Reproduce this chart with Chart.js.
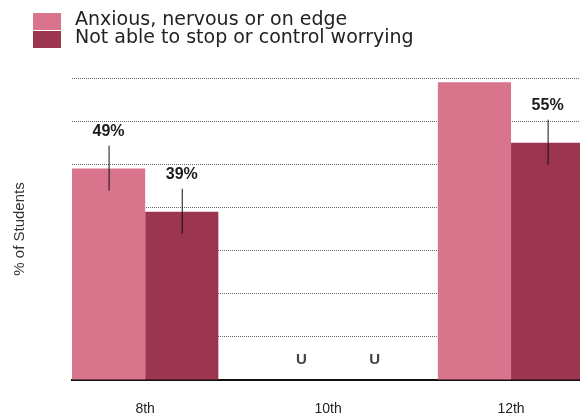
<!DOCTYPE html>
<html>
<head>
<meta charset="utf-8">
<script src="https://cdn.jsdelivr.net/npm/chart.js@4.4.1/dist/chart.umd.min.js"></script>
<style>
  html, body { margin: 0; padding: 0; background: #fff; overflow: hidden; }
  #wrap { width: 580px; height: 420px; }
</style>
</head>
<body>
<div id="wrap"><canvas id="myChart"></canvas></div>
<script>
// grades and survey results (percent of students)
const grades = ['8th', '10th', '12th'];
const anxious = [49, null, 69];
const worrying = [39, null, 55];
// printed labels above the bars, 'U' where no data was reported
const anxiousLabels = ['49%', 'U', ''];
const worryingLabels = ['39%', 'U', '55%'];
const seriesNames = ['Anxious, nervous or on edge', 'Not able to stop or control worrying'];
const yTicks = [0, 10, 20, 30, 40, 50, 60, 70];

const colors = ['#d9748d', '#9c3550'];

// linear x axis so the bars can sit where the grade positions fall
const toPoints = (vals) => vals.map((v, i) => ({ x: i, y: v }));

// draws the value labels with their short leader lines, and the 'U' marks
const barLabels = {
  id: 'barLabels',
  afterDatasetsDraw(chart) {
    const ctx = chart.ctx;
    const yScale = chart.scales.y;
    const allLabels = [anxiousLabels, worryingLabels];
    ctx.save();
    chart.data.datasets.forEach((ds, di) => {
      const meta = chart.getDatasetMeta(di);
      meta.data.forEach((bar, i) => {
        const text = allLabels[di][i];
        if (!text) return;
        const x = bar.x;
        if (text === 'U') {
          ctx.fillStyle = '#444';
          ctx.font = 'bold 15px "Liberation Sans", Arial, sans-serif';
          ctx.textAlign = 'center';
          ctx.textBaseline = 'middle';
          ctx.fillText(text, x + 10, yScale.getPixelForValue(0) - 20);
          return;
        }
        const top = yScale.getPixelForValue(ds.data[i].y);
        ctx.strokeStyle = '#111';
        ctx.lineWidth = 1;
        ctx.beginPath();
        ctx.moveTo(x + 0.5, top - 23);
        ctx.lineTo(x + 0.5, top + 22);
        ctx.stroke();
        ctx.fillStyle = '#1a1a1a';
        ctx.font = 'bold 16px "Liberation Sans", Arial, sans-serif';
        ctx.textAlign = 'center';
        ctx.textBaseline = 'middle';
        ctx.fillText(text, x, top - 37);
      });
    });
    ctx.restore();
  }
};

// stacked legend in the top-left corner
const topLegend = {
  id: 'topLegend',
  afterDraw(chart) {
    const ctx = chart.ctx;
    ctx.save();
    chart.data.datasets.forEach((ds, i) => {
      const y = 13 + i * 18;
      ctx.fillStyle = ds.backgroundColor;
      ctx.fillRect(33, y, 28, 17);
      ctx.fillStyle = '#222';
      ctx.font = '19px "DejaVu Sans", Verdana, sans-serif';
      ctx.textAlign = 'left';
      ctx.textBaseline = 'middle';
      ctx.fillText(ds.label, 75, y + 7);
    });
    ctx.restore();
  }
};

new Chart(document.getElementById('myChart'), {
  type: 'bar',
  data: {
    datasets: [
      { label: seriesNames[0], data: toPoints(anxious), backgroundColor: colors[0] },
      { label: seriesNames[1], data: toPoints(worrying), backgroundColor: colors[1] }
    ]
  },
  options: {
    responsive: true,
    maintainAspectRatio: false,
    animation: false,
    layout: { padding: { top: 78, right: 0, bottom: 0, left: 0 } },
    datasets: {
      bar: { barPercentage: 1, categoryPercentage: 0.8 }
    },
    plugins: {
      legend: { display: false },
      tooltip: { enabled: false }
    },
    scales: {
      x: {
        type: 'linear',
        offset: false,
        min: -0.4,
        max: 2.377,
        grid: { display: false, drawTicks: false, offset: false },
        border: { display: true, color: '#111', width: 2 },
        afterBuildTicks: (scale) => {
          scale.ticks = grades.map((g, i) => ({ value: i }));
        },
        afterFit: (scale) => { scale.height = 40; },
        ticks: {
          padding: 21,
          color: '#222',
          font: { family: '"Liberation Sans", Arial, sans-serif', size: 14 },
          callback: (v) => grades[v]
        }
      },
      y: {
        min: 0,
        max: 70,
        afterBuildTicks: (scale) => {
          scale.ticks = yTicks.map((v) => ({ value: v }));
        },
        afterFit: (scale) => { scale.width = 72; },
        ticks: { display: false },
        border: { display: false, dash: [1, 1] },
        grid: {
          color: '#666',
          lineWidth: 1,
          borderDash: [1, 1],
          drawTicks: false
        },
        title: {
          display: true,
          text: '% of Students',
          color: '#333',
          padding: { top: 11, bottom: 0 },
          font: { family: '"Liberation Sans", Arial, sans-serif', size: 15 }
        }
      }
    }
  },
  plugins: [barLabels, topLegend]
});
</script>
</body>
</html>
